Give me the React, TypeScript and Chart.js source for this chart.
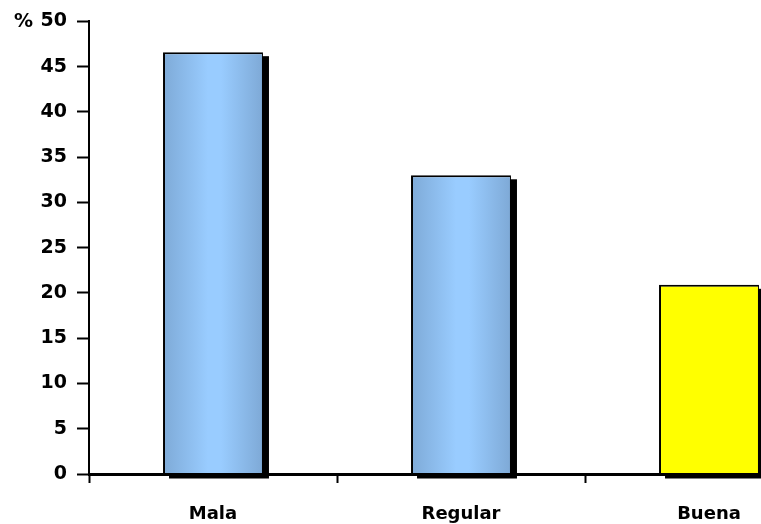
import React, { useEffect, useRef } from "react";
import { Chart, registerables } from "chart.js";

Chart.register(...registerables);

const categories = ["Mala", "Regular", "Buena"];
const percentages = [46.6, 33.0, 20.9];
const yMax = 50;
const yStep = 5;

const FAMILY = "'DejaVu Sans', Verdana, sans-serif";
const Y_FONT = { family: FAMILY, size: 19, weight: "bold" as const };
const X_FONT = { family: FAMILY, size: 18, weight: "bold" as const };
const BAR_FRACTION = 0.403;

function barGradient(ctx: any) {
  const chart = ctx.chart;
  const i = ctx.dataIndex;
  if (i === 2) return "#ffff00";
  const xs = chart.scales?.x;
  if (!xs || !chart.chartArea) return "#99ccff";
  const center = xs.getPixelForValue(i);
  const w = (xs.width / categories.length) * BAR_FRACTION;
  const g = chart.ctx.createLinearGradient(center - w / 2, 0, center + w / 2, 0);
  g.addColorStop(0, "#7eaad7");
  g.addColorStop(0.45, "#99ccff");
  g.addColorStop(0.58, "#99ccff");
  g.addColorStop(1, "#7ea9d6");
  return g;
}

// Solid black drop shadow behind each bar, plus the "%" unit label by the top tick
const extras = {
  id: "extras",
  beforeDatasetsDraw(chart: any) {
    const { ctx } = chart;
    const meta = chart.getDatasetMeta(0);
    ctx.save();
    ctx.fillStyle = "#000";
    meta.data.forEach((bar: any) => {
      const { x, y, base, width } = bar.getProps(["x", "y", "base", "width"], true);
      ctx.fillRect(x - width / 2 + 6, y + 4, width, base - y + 1);
    });
    ctx.restore();
  },
  afterDraw(chart: any) {
    const { ctx } = chart;
    const ys = chart.scales.y;
    ctx.save();
    ctx.font = `bold 19px ${FAMILY}`;
    ctx.fillStyle = "#000";
    ctx.textAlign = "right";
    ctx.textBaseline = "middle";
    ctx.fillText("%", 33, ys.getPixelForValue(yMax) + 1);
    ctx.restore();
  },
};

export default function App() {
  const ref = useRef<HTMLCanvasElement>(null);

  useEffect(() => {
    if (!ref.current) return;
    const chart = new Chart(ref.current, {
      type: "bar",
      data: {
        labels: categories,
        datasets: [
          {
            data: percentages,
            backgroundColor: barGradient,
            borderColor: "#000",
            borderWidth: { top: 2, left: 2, right: 1, bottom: 0 },
            borderSkipped: false,
            barPercentage: BAR_FRACTION,
            categoryPercentage: 1,
          },
        ],
      },
      options: {
        responsive: false,
        animation: false,
        layout: { padding: { top: 20, right: 2, left: 0, bottom: 0 } },
        plugins: { legend: { display: false }, tooltip: { enabled: false } },
        scales: {
          x: {
            offset: true,
            grid: {
              offset: true,
              drawOnChartArea: false,
              tickLength: 9,
              tickWidth: 2,
              tickColor: "#000",
            },
            border: { color: "#000", width: 3, z: 2 },
            ticks: { color: "#000", font: X_FONT, padding: 21 },
            afterFit(scale: any) {
              scale.height = 50;
            },
          },
          y: {
            min: 0,
            max: yMax,
            ticks: { stepSize: yStep, color: "#000", font: Y_FONT, padding: 10 },
            grid: {
              drawOnChartArea: false,
              tickLength: 12,
              tickWidth: 2,
              tickColor: "#000",
            },
            border: { color: "#000", width: 2 },
            afterFit(scale: any) {
              scale.width = 89;
            },
          },
        },
      },
      plugins: [extras],
    });
    return () => chart.destroy();
  }, []);

  return (
    <div
      style={{
        position: "absolute",
        left: 0,
        top: 0,
        width: 761,
        height: 524,
        overflow: "hidden",
        background: "#fff",
      }}
    >
      <canvas ref={ref} width={835} height={524} style={{ display: "block" }} />
    </div>
  );
}
